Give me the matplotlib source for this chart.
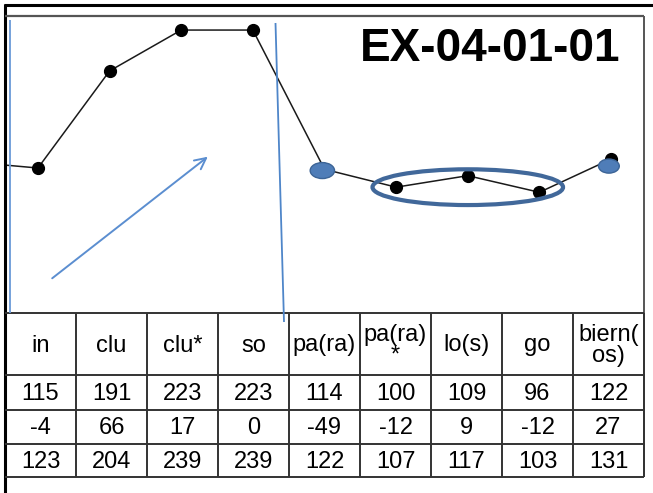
import matplotlib
matplotlib.use("Agg")
import matplotlib.pyplot as plt
from matplotlib.patches import Ellipse
from matplotlib.lines import Line2D

plt.rcParams['font.family'] = ['Liberation Sans', 'DejaVu Sans']

# ---- data ----
categories = ["in", "clu", "clu*", "so", "pa(ra)", "pa(ra)\n*", "lo(s)", "go", "biern(\nos)"]
row1 = [115, 191, 223, 223, 114, 100, 109, 96, 122]
row2 = [-4, 66, 17, 0, -49, -12, 9, -12, 27]
row3 = [123, 204, 239, 239, 122, 107, 117, 103, 131]
prev_value = 120  # line continues from a point left of the chart
title = "EX-04-01-01"

W, H = 653, 493
fig = plt.figure(figsize=(W / 100, H / 100), dpi=100)


def fx(px):
    return px / W


def fy(py):
    return 1 - py / H


# ---- chart axes ----
L, R, T, B = 5, 644, 16, 313
ax = fig.add_axes([fx(L), fy(B), fx(R - L), (B - T) / H])
ax.set_xlim(-0.46, 8.46)
ax.set_ylim(1.5, 234)
ax.axis("off")

n = len(row1)
xs = list(range(-1, n))
ys = [prev_value] + row1
ax.plot(xs, ys, color="#1a1a1a", lw=1.1, marker="o", ms=8.5, mfc="black",
        mec="black", clip_on=True, zorder=3)

blue_fill = "#4F7DB8"
blue_edge = "#3C6496"
ax.add_patch(Ellipse((4 - 0.03, row1[4] - 1), 0.34, 12.5, facecolor=blue_fill,
                     edgecolor=blue_edge, lw=1, zorder=5))
ax.add_patch(Ellipse((8 - 0.03, row1[8] - 5.5), 0.29, 11, facecolor=blue_fill,
                     edgecolor=blue_edge, lw=1, zorder=5))
ax.add_patch(Ellipse((6, 100), 2.66, 28, facecolor="none",
                     edgecolor="#41689A", lw=3, zorder=6))

ax.text(0.963, 0.89, title, transform=ax.transAxes, ha="right", va="center",
        fontsize=33, fontweight="bold", color="black")

# arrow annotation
ax.annotate("", xy=(fx(210), fy(155)), xytext=(fx(50), fy(280)),
            xycoords="figure fraction", textcoords="figure fraction",
            arrowprops=dict(arrowstyle="->,head_length=0.8,head_width=0.4",
                            color="#5B8ED0", lw=1.4))

# ---- frame lines ----
def fline(x0, y0, x1, y1, color, lw, z=10):
    fig.add_artist(Line2D([fx(x0), fx(x1)], [fy(y0), fy(y1)], color=color,
                          lw=lw, transform=fig.transFigure, zorder=z,
                          solid_capstyle="butt"))

fline(4, 4.5, 653, 4.5, "black", 2.2)
fline(4.5, 4, 4.5, 493, "black", 2.2)
fline(5, 16, 644, 16, "#555555", 1.6)
fline(644, 16, 644, 477, "#555555", 1.4)

# blue vertical annotation lines
fline(9.5, 20, 9.5, 313, "#6A9AD8", 1.3, z=11)
fline(275.5, 23, 284, 322, "#4F86C9", 1.3, z=11)

# ---- table ----
col_edges = [5 + i * (639 / 9) for i in range(10)]
row_edges = [313, 375, 410, 444, 477]
for yv in row_edges:
    fline(5, yv, 644, yv, "#333333", 1.4)
for xv in col_edges[1:]:
    fline(xv, 313, xv, 477, "#333333", 1.4)

rows = [categories, row1, row2, row3]
for r, vals in enumerate(rows):
    yc = (row_edges[r] + row_edges[r + 1]) / 2 + 1.5
    for c, v in enumerate(vals):
        xc = (col_edges[c] + col_edges[c + 1]) / 2
        fig.text(fx(xc), fy(yc), str(v), ha="center", va="center",
                 fontsize=17, linespacing=0.9, color="black")

fig.savefig("out.png", dpi=100)
